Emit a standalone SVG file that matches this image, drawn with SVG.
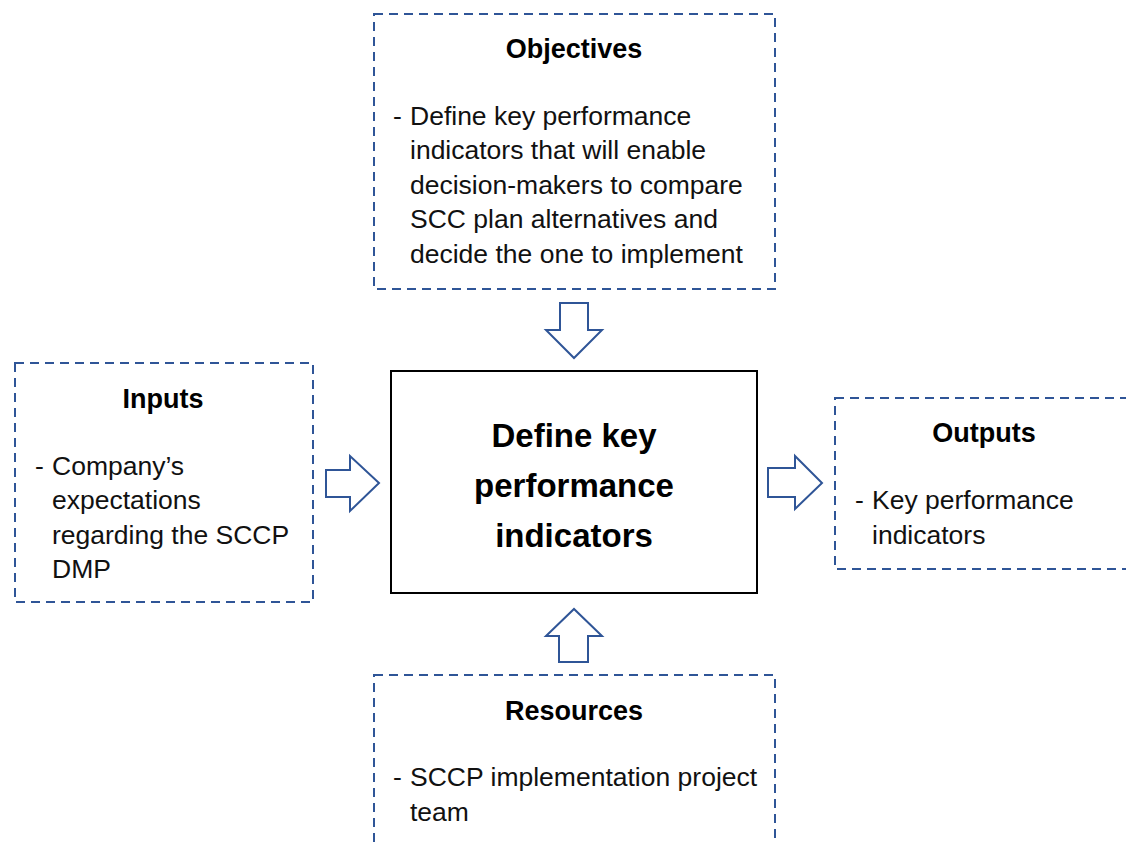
<svg xmlns="http://www.w3.org/2000/svg" width="1126" height="843" viewBox="0 0 1126 843">
<style>
.dash{fill:none;stroke:#2F5597;stroke-width:2;stroke-dasharray:9 6}
.arrow{fill:#fff;stroke:#2F5597;stroke-width:2;stroke-linejoin:miter}
.t{font-family:"Liberation Sans",Arial,sans-serif;font-size:26.5px;fill:#111}
.h{font-family:"Liberation Sans",Arial,sans-serif;font-size:27px;font-weight:bold;fill:#000;text-anchor:middle}
.c{font-family:"Liberation Sans",Arial,sans-serif;font-size:33px;font-weight:bold;fill:#000;text-anchor:middle}
</style>
<rect width="1126" height="843" fill="#fff"/>
<g id="objectives">
<rect class="dash" x="374" y="14" width="401" height="275"/>
<text class="h" x="574" y="58">Objectives</text>
<text class="t" x="393" y="125">-</text>
<text class="t" x="410" y="125">Define key performance</text>
<text class="t" x="410" y="159">indicators that will enable</text>
<text class="t" x="410" y="194">decision-makers to compare</text>
<text class="t" x="410" y="228">SCC plan alternatives and</text>
<text class="t" x="410" y="263">decide the one to implement</text>
</g>
<g id="inputs">
<rect class="dash" x="15" y="363" width="298" height="239"/>
<text class="h" x="163" y="408">Inputs</text>
<text class="t" x="35" y="475">-</text>
<text class="t" x="52" y="475">Company’s</text>
<text class="t" x="52" y="509">expectations</text>
<text class="t" x="52" y="544">regarding the SCCP</text>
<text class="t" x="52" y="578">DMP</text>
</g>
<g id="center">
<rect x="391" y="371" width="366" height="222" fill="#fff" stroke="#000" stroke-width="2"/>
<text class="c" x="574" y="447">Define key</text>
<text class="c" x="574" y="497">performance</text>
<text class="c" x="574" y="547">indicators</text>
</g>
<g id="outputs">
<rect class="dash" x="835" y="398" width="310" height="171"/>
<text class="h" x="984" y="442">Outputs</text>
<text class="t" x="855" y="509">-</text>
<text class="t" x="872" y="509">Key performance</text>
<text class="t" x="872" y="544">indicators</text>
</g>
<g id="resources">
<rect class="dash" x="374" y="675" width="401" height="200"/>
<text class="h" x="574" y="720">Resources</text>
<text class="t" x="393" y="786">-</text>
<text class="t" x="410" y="786">SCCP implementation project</text>
<text class="t" x="410" y="821">team</text>
</g>
<g id="connectors">
<path class="arrow" d="M560,303 H588 V330 H602 L574,358 L546,330 H560 Z"/>
<path class="arrow" d="M559,662 H588 V636 H602 L574,609 L546,636 H559 Z"/>
<path class="arrow" d="M326,470 H350 V456 L379,483 L350,511 V497 H326 Z"/>
<path class="arrow" d="M768,468 H795 V456 L822,483 L795,509 V497 H768 Z"/>
</g>
</svg>
